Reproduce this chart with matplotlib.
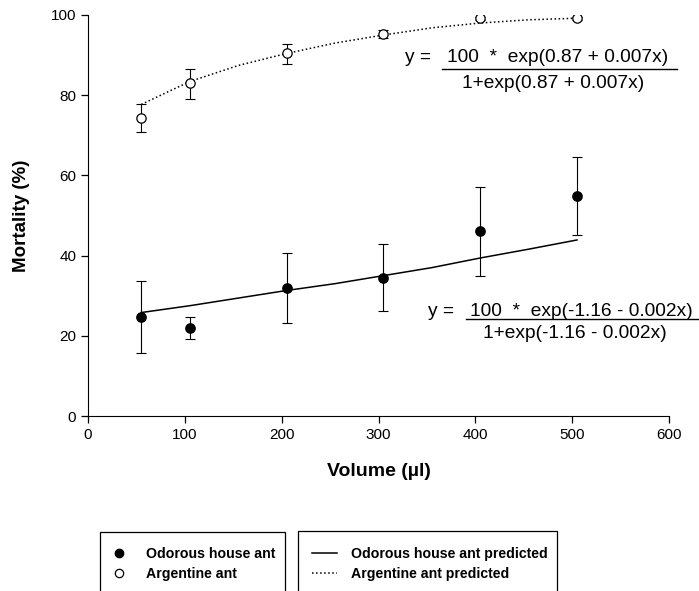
import matplotlib
matplotlib.use("Agg")
import matplotlib.pyplot as plt
from matplotlib.lines import Line2D
from matplotlib.patches import Rectangle

plt.rcParams['font.family'] = ['Liberation Sans', 'DejaVu Sans']

# observed mortality (%) by volume (ul)
volume = [55, 105, 205, 305, 405, 505]
odorous = [24.7, 21.9, 31.8, 34.3, 46.2, 54.8]
odorous_hi = [33.7, 24.8, 40.6, 42.8, 57.0, 64.5]
odorous_lo = [15.8, 19.1, 23.3, 26.3, 35.0, 45.2]
argentine = [74.3, 83.0, 90.4, 95.2, 99.2, 99.2]
argentine_hi = [77.9, 86.5, 92.8, 96.2, 99.6, 99.6]
argentine_lo = [70.8, 79.1, 87.9, 94.2, 98.8, 98.8]

# predicted curves
pred_x = [55, 105, 155, 205, 255, 305, 355, 405, 455, 505]
odorous_pred = [25.8, 27.5, 29.4, 31.3, 33.0, 35.0, 37.0, 39.4, 41.6, 43.9]
argentine_pred = [77.7, 83.4, 87.4, 90.4, 93.0, 95.0, 96.8, 98.0, 98.8, 99.2]

W, H = 699, 591
fig = plt.figure(figsize=(W / 100, H / 100), dpi=100)
ax = fig.add_axes([88 / W, 1 - 416 / H, 581 / W, 401 / H])

def px(x, y):
    return x / W, 1 - y / H

ax.errorbar(volume, odorous,
            yerr=[[a - b for a, b in zip(odorous, odorous_lo)],
                  [b - a for a, b in zip(odorous, odorous_hi)]],
            fmt='none', ecolor='black', elinewidth=0.8, capsize=3.5, capthick=0.8)
ax.errorbar(volume, argentine,
            yerr=[[a - b for a, b in zip(argentine, argentine_lo)],
                  [b - a for a, b in zip(argentine, argentine_hi)]],
            fmt='none', ecolor='black', elinewidth=0.8, capsize=3.5, capthick=0.8)

l_op, = ax.plot(pred_x, odorous_pred, '-', color='black', lw=1.1)
l_ap, = ax.plot(pred_x, argentine_pred, ':', color='black', lw=1.1)
m_o, = ax.plot(volume, odorous, 'o', color='black', ms=6.7, zorder=5)
m_a, = ax.plot(volume, argentine, 'o', mfc='white', mec='black', mew=0.9, ms=6.7, zorder=5)

ax.set_xlim(0, 600)
ax.set_ylim(0, 100)
ax.set_xticks(range(0, 601, 100))
ax.set_yticks(range(0, 101, 20))
ax.spines['top'].set_visible(False)
ax.spines['right'].set_visible(False)
ax.tick_params(direction='out', length=5, width=0.9, labelsize=11)
ax.set_xlabel('Volume (µl)', fontsize=14, fontweight='bold')
ax.set_ylabel('Mortality (%)', fontsize=13.5, fontweight='bold')
ax.xaxis.set_label_coords(0.5, -0.118)
ax.yaxis.set_label_coords(-0.1, 0.5)

# equations
eq = 13.8
fig.text(*px(405, 57), 'y =', fontsize=eq, va='center', ha='left')
fig.text(*px(447, 57), '100  *  exp(0.87 + 0.007x)', fontsize=eq, va='center', ha='left')
fig.add_artist(Line2D([442 / W, 677 / W], [1 - 69 / H, 1 - 69 / H], color='black', lw=1))
fig.text(*px(462, 83), '1+exp(0.87 + 0.007x)', fontsize=eq, va='center', ha='left')

fig.text(*px(428, 312), 'y =', fontsize=eq, va='center', ha='left')
fig.text(*px(470, 312), '100  *  exp(-1.16 - 0.002x)', fontsize=eq, va='center', ha='left')
fig.add_artist(Line2D([466 / W, 698 / W], [1 - 319 / H, 1 - 319 / H], color='black', lw=1))
fig.text(*px(483, 333), '1+exp(-1.16 - 0.002x)', fontsize=eq, va='center', ha='left')

# legend boxes (cut off at the bottom edge)
fig.add_artist(Rectangle(px(100, 600), 185 / W, 68 / H, transform=fig.transFigure,
                         fill=False, ec='black', lw=0.9))
fig.add_artist(Rectangle(px(298, 600), 259 / W, 69 / H, transform=fig.transFigure,
                         fill=False, ec='black', lw=0.9))
leg1 = fig.legend([m_o, m_a], ['Odorous house ant', 'Argentine ant'],
                  loc='upper left', bbox_to_anchor=px(101, 540), frameon=False,
                  prop={'weight': 'bold', 'size': 10.2}, handlelength=1.5,
                  handletextpad=1.2, labelspacing=0.45, borderpad=0)
for h in leg1.legend_handles:
    h.set_markersize(6)
fig.legend([l_op, l_ap], ['Odorous house ant predicted', 'Argentine ant predicted'],
           loc='upper left', bbox_to_anchor=px(305, 540), frameon=False,
           prop={'weight': 'bold', 'size': 10.2}, handlelength=1.75,
           handletextpad=1.0, labelspacing=0.45, borderpad=0)

fig.savefig('out.png', dpi=100)
